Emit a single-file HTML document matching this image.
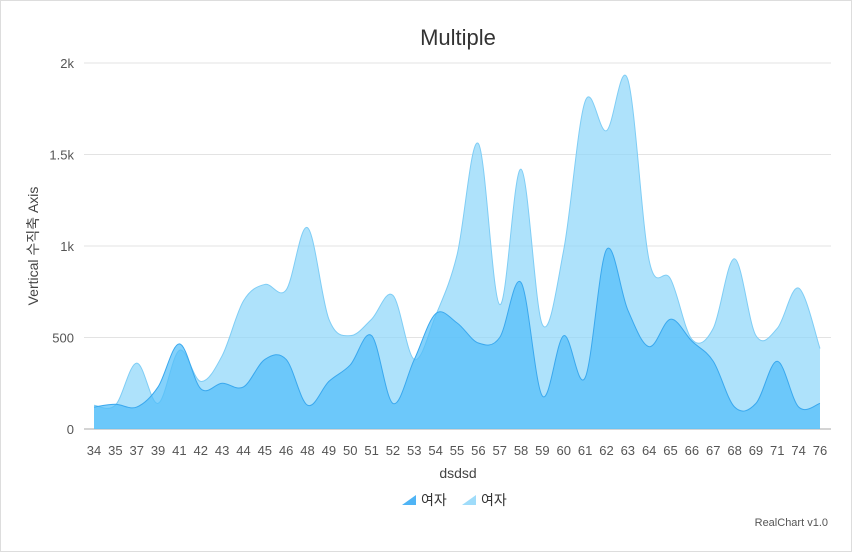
<!DOCTYPE html>
<html><head><meta charset="utf-8"><style>
html,body{margin:0;padding:0;background:#fff;}
svg{display:block;font-family:"Liberation Sans","Noto Sans CJK KR",sans-serif;}
</style></head><body>
<svg id="chart" width="852" height="552" viewBox="0 0 852 552">
<rect x="0.5" y="0.5" width="851" height="551" fill="#fff" stroke="#ddd"/>
<text x="458" y="45" text-anchor="middle" font-size="22" fill="#333">Multiple</text>
<g id="grid"></g>
<g id="areas"></g>
<g id="xaxis"></g>
<g id="yaxis"></g>
<text x="458" y="478" text-anchor="middle" font-size="14" fill="#444">dsdsd</text>
<text transform="translate(38,246) rotate(-90)" text-anchor="middle" font-size="14" fill="#444">Vertical 수직축 Axis</text>
<g><path d="M402 505 L416 495 L416 505 Z" fill="#4fb4f5"/><text x="421" y="505" font-size="14" fill="#333">여자</text></g>
<g><path d="M462 505 L476 495 L476 505 Z" fill="#9fdcfa"/><text x="481" y="505" font-size="14" fill="#333">여자</text></g>
<text x="828" y="526" text-anchor="end" font-size="11" fill="#555">RealChart v1.0</text>
</svg>
<script>
const categories=[34,35,37,39,41,42,43,44,45,46,48,49,50,51,52,53,54,55,56,57,58,59,60,61,62,63,64,65,66,67,68,69,71,74,76];
const series1=[120,135,120,230,465,220,250,230,380,380,130,260,350,510,140,380,630,580,470,500,800,180,510,280,980,650,450,600,480,370,120,140,370,120,140];
const series2=[130,130,360,140,430,260,400,700,790,760,1100,600,510,600,730,380,620,950,1560,680,1420,570,980,1790,1630,1910,920,820,490,550,930,510,550,770,440];
const yTicks=[0,500,1000,1500,2000];
const yLabels=["0","500","1k","1.5k","2k"];
const NS="http://www.w3.org/2000/svg";
const X0=94,X1=820,Y0=429,Y1=63,YMAX=2000;
function xs(i){return X0+i*(X1-X0)/(categories.length-1);}
function ys(v){return Y0-v*(Y0-Y1)/YMAX;}
function mk(tag,attrs,parent){const e=document.createElementNS(NS,tag);for(const k in attrs)e.setAttribute(k,attrs[k]);parent.appendChild(e);return e;}
const grid=document.getElementById('grid'),ya=document.getElementById('yaxis'),xa=document.getElementById('xaxis'),ar=document.getElementById('areas');
yTicks.forEach((t,i)=>{
 const l=mk('line',{x1:84,x2:831,y1:ys(t),y2:ys(t),stroke:i===0?'#aaa':'#e3e3e3'},grid);
 
 
 const tx=mk('text',{x:74,y:ys(t)+5,'text-anchor':'end','font-size':13,fill:'#555'},ya);
 tx.textContent=yLabels[i];
 
 
});
categories.forEach((c,i)=>{
 const tx=mk('text',{x:xs(i),y:455,'text-anchor':'middle','font-size':13,fill:'#555'},xa);
 tx.textContent=c;
 
 
});
function curve(vals){
 const p=vals.map((v,i)=>[xs(i),ys(v)]);
 let d='M'+p[0][0]+' '+p[0][1];
 for(let i=0;i<p.length-1;i++){
  const a=p[Math.max(0,i-1)],b=p[i],c=p[i+1],e=p[Math.min(p.length-1,i+2)];
  const t=0.17;
  let c1y=b[1]+(c[1]-a[1])*t, c2y=c[1]-(e[1]-b[1])*t;
  const lo=Math.min(b[1],c[1])-40, hi=Math.max(b[1],c[1])+40;
  c1y=Math.max(lo,Math.min(hi,c1y));c2y=Math.max(lo,Math.min(hi,c2y));
  d+=' C'+(b[0]+(c[0]-a[0])*t)+' '+Math.min(Y0,c1y)+' '+(c[0]-(e[0]-b[0])*t)+' '+Math.min(Y0,c2y)+' '+c[0]+' '+c[1];
 }
 return d;
}
function area(vals,fill,stroke,name){
 const line=curve(vals);
 const a=mk('path',{d:line+' L'+xs(vals.length-1)+' '+Y0+' L'+xs(0)+' '+Y0+' Z',fill:fill,stroke:'none'},ar);
 
 
 const l=mk('path',{d:line,fill:'none',stroke:stroke,'stroke-width':1},ar);
 
 
}
area(series2,'rgba(140,214,250,0.7)','#7fcdf5','series-2');
area(series1,'rgba(80,190,250,0.7)','#3aa8ee','series-1');
</script>
</body></html>
